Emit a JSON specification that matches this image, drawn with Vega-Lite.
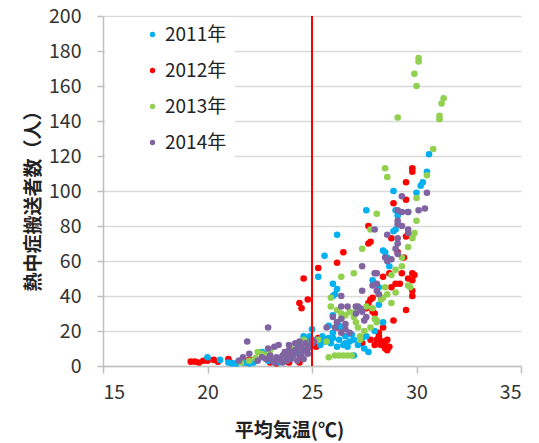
{
  "$schema": "https://vega.github.io/schema/vega-lite/v6.json",
  "autosize": "none",
  "width": 418,
  "height": 350,
  "padding": {"left": 103, "top": 16, "right": 18, "bottom": 77},
  "background": "white",
  "config": {
    "view": {"stroke": null},
    "font": "Noto Sans CJK JP"
  },
  "datasets": {
    "pts": [
      {"year": "2012年", "temp": 19.2, "count": 2.5}, {"year": "2012年", "temp": 19.4, "count": 2.5}, {"year": "2012年", "temp": 19.6, "count": 2}, {"year": "2012年", "temp": 19.8, "count": 3}, {"year": "2012年", "temp": 20.0, "count": 3}, {"year": "2012年", "temp": 20.3, "count": 3.5}, {"year": "2012年", "temp": 20.5, "count": 2.5}, {"year": "2012年", "temp": 21.0, "count": 4}, {"year": "2012年", "temp": 21.1, "count": 2}, {"year": "2012年", "temp": 21.9, "count": 2}, {"year": "2012年", "temp": 22.0, "count": 3.5}, {"year": "2012年", "temp": 23.0, "count": 2}, {"year": "2012年", "temp": 23.3, "count": 1.5}, {"year": "2012年", "temp": 23.9, "count": 2}, {"year": "2012年", "temp": 24.4, "count": 2}, {"year": "2012年", "temp": 24.4, "count": 3},
      {"year": "2012年", "temp": 24.4, "count": 36}, {"year": "2012年", "temp": 24.5, "count": 33}, {"year": "2012年", "temp": 24.6, "count": 50}, {"year": "2012年", "temp": 24.8, "count": 38}, {"year": "2012年", "temp": 25.2, "count": 11}, {"year": "2012年", "temp": 25.3, "count": 56}, {"year": "2012年", "temp": 25.5, "count": 16}, {"year": "2012年", "temp": 26.2, "count": 59}, {"year": "2012年", "temp": 26.2, "count": 22}, {"year": "2012年", "temp": 26.5, "count": 65}, {"year": "2012年", "temp": 27.4, "count": 13}, {"year": "2012年", "temp": 27.7, "count": 70}, {"year": "2012年", "temp": 27.7, "count": 80}, {"year": "2012年", "temp": 27.7, "count": 36}, {"year": "2012年", "temp": 27.8, "count": 38}, {"year": "2012年", "temp": 27.6, "count": 33}, {"year": "2012年", "temp": 28.0, "count": 30}, {"year": "2012年", "temp": 27.8, "count": 15}, {"year": "2012年", "temp": 28.1, "count": 15}, {"year": "2012年", "temp": 28.4, "count": 14}, {"year": "2012年", "temp": 28.6, "count": 15}, {"year": "2012年", "temp": 28.6, "count": 9}, {"year": "2012年", "temp": 28.3, "count": 12}, {"year": "2012年", "temp": 28.5, "count": 10}, {"year": "2012年", "temp": 28.7, "count": 53}, {"year": "2012年", "temp": 28.4, "count": 51}, {"year": "2012年", "temp": 27.9, "count": 31}, {"year": "2012年", "temp": 27.9, "count": 39}, {"year": "2012年", "temp": 28.9, "count": 26}, {"year": "2012年", "temp": 28.4, "count": 22}, {"year": "2012年", "temp": 28.2, "count": 19}, {"year": "2012年", "temp": 29.3, "count": 53}, {"year": "2012年", "temp": 29.8, "count": 53}, {"year": "2012年", "temp": 29.8, "count": 49}, {"year": "2012年", "temp": 29.2, "count": 47}, {"year": "2012年", "temp": 29.0, "count": 47}, {"year": "2012年", "temp": 29.8, "count": 43}, {"year": "2012年", "temp": 29.8, "count": 40}, {"year": "2012年", "temp": 29.5, "count": 32}, {"year": "2012年", "temp": 28.8, "count": 73}, {"year": "2012年", "temp": 29.5, "count": 74}, {"year": "2012年", "temp": 29.1, "count": 65}, {"year": "2012年", "temp": 29.4, "count": 62}, {"year": "2012年", "temp": 28.9, "count": 93}, {"year": "2012年", "temp": 29.5, "count": 95}, {"year": "2012年", "temp": 29.8, "count": 113}, {"year": "2012年", "temp": 29.8, "count": 111}, {"year": "2012年", "temp": 29.5, "count": 105}, {"year": "2012年", "temp": 27.8, "count": 71}, {"year": "2012年", "temp": 25.0, "count": 12}, {"year": "2012年", "temp": 25.3, "count": 16},
      {"year": "2012年", "temp": 28.2, "count": 17}, {"year": "2012年", "temp": 28.0, "count": 12}, {"year": "2012年", "temp": 28.8, "count": 45}, {"year": "2012年", "temp": 29.6, "count": 50}, {"year": "2012年", "temp": 29.9, "count": 52}, {"year": "2012年", "temp": 28.3, "count": 14}, {"year": "2012年", "temp": 28.5, "count": 13}, {"year": "2012年", "temp": 28.7, "count": 11},

      {"year": "2011年", "temp": 20.0, "count": 5}, {"year": "2011年", "temp": 20.6, "count": 3.5}, {"year": "2011年", "temp": 21.0, "count": 2}, {"year": "2011年", "temp": 21.2, "count": 1.5}, {"year": "2011年", "temp": 21.7, "count": 2}, {"year": "2011年", "temp": 21.8, "count": 2}, {"year": "2011年", "temp": 22.0, "count": 1.5}, {"year": "2011年", "temp": 22.6, "count": 8}, {"year": "2011年", "temp": 22.7, "count": 7}, {"year": "2011年", "temp": 22.2, "count": 2}, {"year": "2011年", "temp": 23.4, "count": 2}, {"year": "2011年", "temp": 23.8, "count": 4}, {"year": "2011年", "temp": 24.0, "count": 5}, {"year": "2011年", "temp": 24.3, "count": 8}, {"year": "2011年", "temp": 24.6, "count": 17}, {"year": "2011年", "temp": 24.4, "count": 12}, {"year": "2011年", "temp": 24.8, "count": 14}, {"year": "2011年", "temp": 25.0, "count": 21},
      {"year": "2011年", "temp": 25.0, "count": 13}, {"year": "2011年", "temp": 25.2, "count": 15}, {"year": "2011年", "temp": 25.3, "count": 51}, {"year": "2011年", "temp": 25.6, "count": 63}, {"year": "2011年", "temp": 25.5, "count": 17}, {"year": "2011年", "temp": 25.8, "count": 16}, {"year": "2011年", "temp": 25.8, "count": 23}, {"year": "2011年", "temp": 26.0, "count": 19}, {"year": "2011年", "temp": 26.0, "count": 47}, {"year": "2011年", "temp": 26.0, "count": 40}, {"year": "2011年", "temp": 26.1, "count": 41}, {"year": "2011年", "temp": 26.2, "count": 44}, {"year": "2011年", "temp": 26.2, "count": 75}, {"year": "2011年", "temp": 26.2, "count": 11}, {"year": "2011年", "temp": 26.3, "count": 23}, {"year": "2011年", "temp": 26.5, "count": 12}, {"year": "2011年", "temp": 26.6, "count": 13}, {"year": "2011年", "temp": 26.8, "count": 14}, {"year": "2011年", "temp": 26.6, "count": 17}, {"year": "2011年", "temp": 27.0, "count": 6}, {"year": "2011年", "temp": 26.2, "count": 25}, {"year": "2011年", "temp": 26.4, "count": 22}, {"year": "2011年", "temp": 26.0, "count": 29}, {"year": "2011年", "temp": 27.5, "count": 10}, {"year": "2011年", "temp": 27.7, "count": 8}, {"year": "2011年", "temp": 27.9, "count": 49}, {"year": "2011年", "temp": 28.2, "count": 45}, {"year": "2011年", "temp": 28.4, "count": 66}, {"year": "2011年", "temp": 28.4, "count": 25}, {"year": "2011年", "temp": 27.6, "count": 89}, {"year": "2011年", "temp": 28.5, "count": 65}, {"year": "2011年", "temp": 28.6, "count": 62}, {"year": "2011年", "temp": 28.7, "count": 57}, {"year": "2011年", "temp": 28.9, "count": 100}, {"year": "2011年", "temp": 29.0, "count": 89}, {"year": "2011年", "temp": 29.1, "count": 86}, {"year": "2011年", "temp": 29.0, "count": 78}, {"year": "2011年", "temp": 28.9, "count": 77}, {"year": "2011年", "temp": 29.6, "count": 88}, {"year": "2011年", "temp": 30.0, "count": 99}, {"year": "2011年", "temp": 30.2, "count": 103}, {"year": "2011年", "temp": 30.3, "count": 105}, {"year": "2011年", "temp": 30.5, "count": 111}, {"year": "2011年", "temp": 30.6, "count": 121}, {"year": "2011年", "temp": 28.0, "count": 20}, {"year": "2011年", "temp": 27.6, "count": 17}, {"year": "2011年", "temp": 28.2, "count": 35},
      {"year": "2011年", "temp": 25.4, "count": 12}, {"year": "2011年", "temp": 25.6, "count": 14}, {"year": "2011年", "temp": 25.9, "count": 13}, {"year": "2011年", "temp": 26.0, "count": 16}, {"year": "2011年", "temp": 26.3, "count": 15}, {"year": "2011年", "temp": 26.7, "count": 11}, {"year": "2011年", "temp": 27.0, "count": 15}, {"year": "2011年", "temp": 27.2, "count": 12}, {"year": "2011年", "temp": 27.4, "count": 16}, {"year": "2011年", "temp": 26.9, "count": 18}, {"year": "2011年", "temp": 21.4, "count": 1.5}, {"year": "2011年", "temp": 21.5, "count": 3}, {"year": "2011年", "temp": 22.3, "count": 3}, {"year": "2011年", "temp": 22.9, "count": 3}, {"year": "2011年", "temp": 23.6, "count": 6}, {"year": "2011年", "temp": 24.9, "count": 17},

      {"year": "2013年", "temp": 30.1, "count": 176}, {"year": "2013年", "temp": 30.1, "count": 174}, {"year": "2013年", "temp": 29.9, "count": 167}, {"year": "2013年", "temp": 30.0, "count": 160}, {"year": "2013年", "temp": 31.3, "count": 153}, {"year": "2013年", "temp": 31.2, "count": 150}, {"year": "2013年", "temp": 29.1, "count": 142}, {"year": "2013年", "temp": 31.1, "count": 143}, {"year": "2013年", "temp": 31.1, "count": 141}, {"year": "2013年", "temp": 30.8, "count": 124}, {"year": "2013年", "temp": 28.5, "count": 113}, {"year": "2013年", "temp": 28.6, "count": 108}, {"year": "2013年", "temp": 30.5, "count": 109}, {"year": "2013年", "temp": 30.0, "count": 96}, {"year": "2013年", "temp": 28.1, "count": 87}, {"year": "2013年", "temp": 30.0, "count": 83}, {"year": "2013年", "temp": 29.9, "count": 76}, {"year": "2013年", "temp": 29.8, "count": 74}, {"year": "2013年", "temp": 29.8, "count": 73}, {"year": "2013年", "temp": 29.6, "count": 68}, {"year": "2013年", "temp": 27.8, "count": 78}, {"year": "2013年", "temp": 29.3, "count": 62}, {"year": "2013年", "temp": 29.3, "count": 57}, {"year": "2013年", "temp": 28.8, "count": 52}, {"year": "2013年", "temp": 29.6, "count": 46}, {"year": "2013年", "temp": 29.7, "count": 45}, {"year": "2013年", "temp": 29.0, "count": 42}, {"year": "2013年", "temp": 28.6, "count": 41}, {"year": "2013年", "temp": 28.4, "count": 39}, {"year": "2013年", "temp": 28.8, "count": 36}, {"year": "2013年", "temp": 27.9, "count": 33}, {"year": "2013年", "temp": 28.0, "count": 27}, {"year": "2013年", "temp": 28.1, "count": 25}, {"year": "2013年", "temp": 27.4, "count": 67}, {"year": "2013年", "temp": 27.0, "count": 53}, {"year": "2013年", "temp": 26.4, "count": 51}, {"year": "2013年", "temp": 26.4, "count": 27}, {"year": "2013年", "temp": 25.9, "count": 34}, {"year": "2013年", "temp": 26.2, "count": 32}, {"year": "2013年", "temp": 26.4, "count": 30}, {"year": "2013年", "temp": 26.6, "count": 29}, {"year": "2013年", "temp": 26.8, "count": 31}, {"year": "2013年", "temp": 27.0, "count": 28}, {"year": "2013年", "temp": 27.1, "count": 31}, {"year": "2013年", "temp": 27.1, "count": 25}, {"year": "2013年", "temp": 28.1, "count": 26}, {"year": "2013年", "temp": 28.2, "count": 41}, {"year": "2013年", "temp": 28.3, "count": 38}, {"year": "2013年", "temp": 25.3, "count": 15}, {"year": "2013年", "temp": 25.7, "count": 14}, {"year": "2013年", "temp": 25.8, "count": 5}, {"year": "2013年", "temp": 26.1, "count": 6}, {"year": "2013年", "temp": 26.3, "count": 6}, {"year": "2013年", "temp": 26.5, "count": 6}, {"year": "2013年", "temp": 26.7, "count": 6}, {"year": "2013年", "temp": 26.9, "count": 6}, {"year": "2013年", "temp": 27.2, "count": 22}, {"year": "2013年", "temp": 27.3, "count": 17}, {"year": "2013年", "temp": 27.3, "count": 15}, {"year": "2013年", "temp": 27.6, "count": 34}, {"year": "2013年", "temp": 25.9, "count": 39}, {"year": "2013年", "temp": 24.9, "count": 13}, {"year": "2013年", "temp": 24.6, "count": 15}, {"year": "2013年", "temp": 22.8, "count": 6}, {"year": "2013年", "temp": 22.6, "count": 7}, {"year": "2013年", "temp": 22.4, "count": 8}, {"year": "2013年", "temp": 22.3, "count": 4.5}, {"year": "2013年", "temp": 21.6, "count": 2}, {"year": "2013年", "temp": 22.0, "count": 3}, {"year": "2013年", "temp": 24.0, "count": 10}, {"year": "2013年", "temp": 23.0, "count": 9},
      {"year": "2013年", "temp": 27.5, "count": 20}, {"year": "2013年", "temp": 27.8, "count": 22}, {"year": "2013年", "temp": 28.5, "count": 45}, {"year": "2013年", "temp": 29.0, "count": 55},

      {"year": "2014年", "temp": 21.5, "count": 3}, {"year": "2014年", "temp": 21.7, "count": 5}, {"year": "2014年", "temp": 22.0, "count": 7}, {"year": "2014年", "temp": 21.9, "count": 14}, {"year": "2014年", "temp": 22.9, "count": 22}, {"year": "2014年", "temp": 22.9, "count": 10}, {"year": "2014年", "temp": 23.1, "count": 3}, {"year": "2014年", "temp": 23.3, "count": 5}, {"year": "2014年", "temp": 23.5, "count": 3}, {"year": "2014年", "temp": 23.7, "count": 8}, {"year": "2014年", "temp": 23.9, "count": 12}, {"year": "2014年", "temp": 24.0, "count": 4}, {"year": "2014年", "temp": 24.2, "count": 13}, {"year": "2014年", "temp": 24.4, "count": 6}, {"year": "2014年", "temp": 24.6, "count": 9}, {"year": "2014年", "temp": 24.3, "count": 3}, {"year": "2014年", "temp": 23.2, "count": 11}, {"year": "2014年", "temp": 23.6, "count": 2}, {"year": "2014年", "temp": 24.8, "count": 10}, {"year": "2014年", "temp": 24.0, "count": 8}, {"year": "2014年", "temp": 23.4, "count": 12}, {"year": "2014年", "temp": 24.4, "count": 14}, {"year": "2014年", "temp": 25.1, "count": 14}, {"year": "2014年", "temp": 24.8, "count": 7}, {"year": "2014年", "temp": 23.8, "count": 6}, {"year": "2014年", "temp": 22.4, "count": 3}, {"year": "2014年", "temp": 22.6, "count": 5}, {"year": "2014年", "temp": 24.6, "count": 4},
      {"year": "2014年", "temp": 22.8, "count": 4}, {"year": "2014年", "temp": 23.0, "count": 6}, {"year": "2014年", "temp": 23.2, "count": 2}, {"year": "2014年", "temp": 23.4, "count": 4}, {"year": "2014年", "temp": 23.6, "count": 6}, {"year": "2014年", "temp": 23.8, "count": 3}, {"year": "2014年", "temp": 24.1, "count": 6}, {"year": "2014年", "temp": 24.2, "count": 9}, {"year": "2014年", "temp": 24.5, "count": 11}, {"year": "2014年", "temp": 24.7, "count": 13}, {"year": "2014年", "temp": 24.9, "count": 12}, {"year": "2014年", "temp": 25.0, "count": 15}, {"year": "2014年", "temp": 24.5, "count": 7}, {"year": "2014年", "temp": 23.9, "count": 9}, {"year": "2014年", "temp": 24.3, "count": 10},
      {"year": "2014年", "temp": 25.7, "count": 22}, {"year": "2014年", "temp": 26.0, "count": 28}, {"year": "2014年", "temp": 26.4, "count": 40}, {"year": "2014年", "temp": 26.4, "count": 34}, {"year": "2014年", "temp": 26.7, "count": 34}, {"year": "2014年", "temp": 27.1, "count": 34}, {"year": "2014年", "temp": 27.1, "count": 30}, {"year": "2014年", "temp": 26.6, "count": 24}, {"year": "2014年", "temp": 26.4, "count": 27}, {"year": "2014年", "temp": 26.2, "count": 25}, {"year": "2014年", "temp": 26.1, "count": 22}, {"year": "2014年", "temp": 26.4, "count": 19}, {"year": "2014年", "temp": 26.8, "count": 19}, {"year": "2014年", "temp": 27.4, "count": 57}, {"year": "2014年", "temp": 28.0, "count": 53}, {"year": "2014年", "temp": 27.4, "count": 43}, {"year": "2014年", "temp": 28.1, "count": 43}, {"year": "2014年", "temp": 27.9, "count": 46}, {"year": "2014年", "temp": 28.2, "count": 41}, {"year": "2014年", "temp": 27.2, "count": 34}, {"year": "2014年", "temp": 27.4, "count": 31}, {"year": "2014年", "temp": 27.6, "count": 28}, {"year": "2014年", "temp": 27.5, "count": 26}, {"year": "2014年", "temp": 27.3, "count": 33}, {"year": "2014年", "temp": 26.6, "count": 21}, {"year": "2014年", "temp": 28.1, "count": 53}, {"year": "2014年", "temp": 28.1, "count": 47}, {"year": "2014年", "temp": 28.6, "count": 60},
      {"year": "2014年", "temp": 29.3, "count": 97}, {"year": "2014年", "temp": 30.5, "count": 99}, {"year": "2014年", "temp": 30.4, "count": 90}, {"year": "2014年", "temp": 30.1, "count": 89}, {"year": "2014年", "temp": 29.1, "count": 89}, {"year": "2014年", "temp": 29.3, "count": 88}, {"year": "2014年", "temp": 29.6, "count": 88}, {"year": "2014年", "temp": 29.1, "count": 83}, {"year": "2014年", "temp": 29.1, "count": 81}, {"year": "2014年", "temp": 29.3, "count": 80}, {"year": "2014年", "temp": 29.6, "count": 78}, {"year": "2014年", "temp": 29.6, "count": 76}, {"year": "2014年", "temp": 28.0, "count": 78}, {"year": "2014年", "temp": 28.6, "count": 75}, {"year": "2014年", "temp": 29.1, "count": 73}, {"year": "2014年", "temp": 29.1, "count": 70}, {"year": "2014年", "temp": 29.0, "count": 67}, {"year": "2014年", "temp": 29.1, "count": 64}, {"year": "2014年", "temp": 28.5, "count": 62}, {"year": "2014年", "temp": 28.8, "count": 61}
    ],
    "threshold": [{"temp": 25}]
  },
  "layer": [
    {
      "data": {"name": "pts"},
      "mark": {"type": "point", "filled": true, "opacity": 1, "size": 44, "shape": "circle"},
      "encoding": {
        "x": {
          "field": "temp", "type": "quantitative",
          "scale": {"domain": [15, 35], "nice": false, "zero": false},
          "axis": {
            "values": [15, 20, 25, 30, 35], "grid": false,
            "domainColor": "#BFBFBF", "domainWidth": 1.5,
            "tickColor": "#BFBFBF", "tickSize": 7, "tickWidth": 1.5,
            "labelFontSize": 19.5, "labelColor": "#333333", "labelPadding": 10,
            "labelFont": "Noto Sans CJK JP",
            "title": "平均気温(℃)", "titleFontSize": 19, "titleFontWeight": "bold",
            "titleColor": "#222222", "titleX": 186, "titleY": 64, "titleAlign": "center", "titleBaseline": "middle",
            "titleFont": "Noto Sans CJK JP"
          }
        },
        "y": {
          "field": "count", "type": "quantitative",
          "scale": {"domain": [0, 200], "nice": false},
          "axis": {
            "values": [0, 20, 40, 60, 80, 100, 120, 140, 160, 180, 200],
            "grid": true, "gridColor": "#D9D9D9", "gridWidth": 1.5,
            "domainColor": "#BFBFBF", "domainWidth": 1.5,
            "tickColor": "#BFBFBF", "tickSize": 6, "tickWidth": 1.5,
            "labelFontSize": 19.5, "labelColor": "#333333", "labelPadding": 16,
            "labelFont": "Noto Sans CJK JP",
            "title": "熱中症搬送者数（人）", "titleFontSize": 19, "titleFontWeight": "bold",
            "titleColor": "#222222", "titleX": -70, "titleY": 180, "titleAlign": "center", "titleBaseline": "middle", "titleAngle": -90,
            "titleFont": "Noto Sans CJK JP"
          }
        },
        "color": {
          "field": "year", "type": "nominal",
          "scale": {"domain": ["2011年", "2012年", "2013年", "2014年"], "range": ["#00B0F0", "#FF0000", "#92D050", "#8064A2"]},
          "legend": {
            "title": null, "orient": "none", "legendX": 2, "legendY": 1,
            "fillColor": "white", "padding": 8, "symbolOffset": 30,
            "symbolSize": 28, "symbolType": "circle",
            "labelFontSize": 19, "labelColor": "#222222", "labelFont": "Noto Sans CJK JP",
            "rowPadding": 16, "labelOffset": 3
          }
        }
      }
    },
    {
      "data": {"name": "threshold"},
      "mark": {"type": "rule", "color": "#FF0000", "strokeWidth": 2},
      "encoding": {"x": {"field": "temp", "type": "quantitative"}}
    }
  ]
}
